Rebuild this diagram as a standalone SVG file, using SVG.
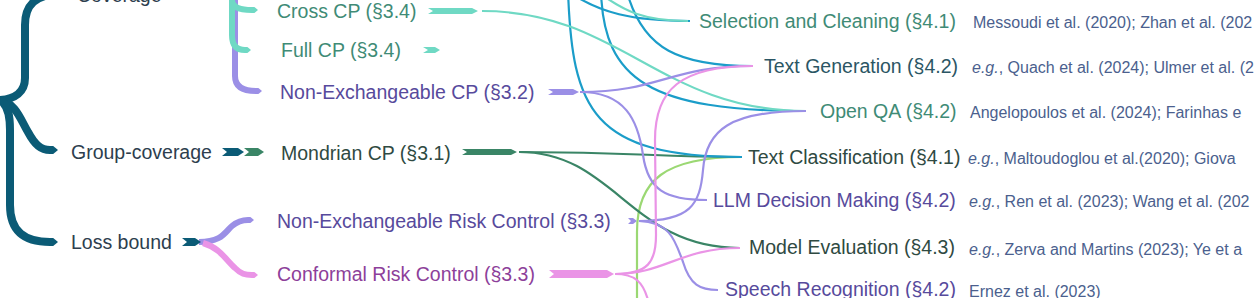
<svg xmlns="http://www.w3.org/2000/svg" width="1256" height="298" viewBox="0 0 1256 298">
<style>
.lbl{font-family:"Liberation Sans",Arial,sans-serif;font-size:19.5px}
.cit{font-family:"Liberation Sans",Arial,sans-serif;font-size:16px;fill:#4b5f8e}
.it{font-style:italic}
.dk{fill:#2d3e4e}
.tl{fill:#3f8b76}
.pu{fill:#574a9c}
.dg{fill:#2f4a42}
.ts{fill:#2b5664}
.mg{fill:#8d3f9a}
.thin{fill:none;stroke-width:2.2}
.c-blue{stroke:#1b9dc9}
.c-teal{stroke:#6fd9c4}
.c-pur{stroke:#9b8fe6}
.c-pink{stroke:#ea94e6}
.c-grn{stroke:#3a8566}
.c-lg{stroke:#9bd873}
.brace{fill:none;stroke-linecap:butt}
</style>
<defs>
<marker id="tip-dt" viewBox="0 0 10 10" refX="0" refY="5" markerWidth="1" markerHeight="1" markerUnits="strokeWidth" orient="auto"><path d="M0,0 L4,0 L10,5 L4,10 L0,10 Z" fill="#0b5b76"/></marker>
<marker id="tip-teal" viewBox="0 0 10 10" refX="0" refY="5" markerWidth="1" markerHeight="1" markerUnits="strokeWidth" orient="auto"><path d="M0,0 L4,0 L10,5 L4,10 L0,10 Z" fill="#6fd9c4"/></marker>
<marker id="tip-pur" viewBox="0 0 10 10" refX="0" refY="5" markerWidth="1" markerHeight="1" markerUnits="strokeWidth" orient="auto"><path d="M0,0 L4,0 L10,5 L4,10 L0,10 Z" fill="#9b8fe6"/></marker>
<marker id="tip-pink" viewBox="0 0 10 10" refX="0" refY="5" markerWidth="1" markerHeight="1" markerUnits="strokeWidth" orient="auto"><path d="M0,0 L4,0 L10,5 L4,10 L0,10 Z" fill="#ea94e6"/></marker>
</defs>

<g id="connectors">
  <!-- big left brace -->
  <g class="brace" stroke="#0b5b76" stroke-width="8">
    <path d="M62,-6 C35,-6 25,5 25,25 L25,78 C25,92 15,99 0,100"/>
    <path d="M0,100 C15,103 20,118 28,132 C35,145 41,150 50,150" marker-end="url(#tip-dt)"/>
    <path d="M0,100 C8,105 10,115 10,130 L10,205 C10,232 25,242 50,242" marker-end="url(#tip-dt)"/>
  </g>
  <!-- coverage sub-brace -->
  <g class="brace" stroke-width="6">
    <path d="M235,-10 L235,76 C235,87 243,91 256,91" stroke="#9b8fe6" marker-end="url(#tip-pur)"/>
    <path d="M232,-10 L232,0 C232,7 239,10 252,10" stroke="#6fd9c4" marker-end="url(#tip-teal)"/>
    <path d="M232,-10 L232,35 C232,46 237,50 245,50" stroke="#6fd9c4" marker-end="url(#tip-teal)"/>
  </g>
  <!-- loss bound sub-brace -->
  <g class="brace" stroke-width="6">
    <path d="M199,242 C222,242 225,232 232,226 C238,221 242,220 248,220" stroke="#9b8fe6" marker-end="url(#tip-pur)"/>
    <path d="M203,243 C220,248 226,260 235,268 C241,274 245,275 252,275" stroke="#ea94e6" marker-end="url(#tip-pink)"/>
  </g>
  <!-- chevrons / bars -->
  <polygon points="222,148 238,148 244,152 238,156 222,156 227,152" fill="#0b5b76"/>
  <polygon points="244,148 258,148 264,152 258,156 244,156 249,152" fill="#3a8566"/>
  <polygon points="182,238 195,238 201,242 195,246 182,246 187,242" fill="#0b5b76"/>
  <polygon points="428,8 472,8 478,11 472,14 428,14 433,11" fill="#6fd9c4"/>
  <polygon points="423,47 435,47 440,50 435,53 423,53 428,50" fill="#6fd9c4"/>
  <polygon points="548,89 573,89 579,92 573,95 548,95 553,92" fill="#9b8fe6"/>
  <polygon points="462,149 511,149 517,152 511,155 462,155 467,152" fill="#3a8566"/>
  <polygon points="628,218 633,218 637,221 633,224 628,224 631,221" fill="#9b8fe6"/>
  <polygon points="549,270 607,270 614,274 607,278 549,278 554,274" fill="#ea94e6"/>

  <!-- flows -->
  <path class="thin c-lg" d="M637,300 L637,232 C637,180 665,157 742,157"/>
  <path class="thin c-grn" d="M519,152 C640,152 650,157 742,157"/>
  <path class="thin c-grn" d="M519,152 C615,152 630,248 740,248"/>
  <path class="thin c-blue" d="M568,-10 C572,110 592,157 742,157"/>
  <path class="thin c-blue" d="M572,-6 C600,12 630,21 690,21"/>
  <path class="thin c-blue" d="M601,-8 C604,80 650,111 806,111"/>
  <path class="thin c-blue" d="M627,-8 C643,50 680,66 753,66"/>
  <path class="thin c-teal" d="M482,11 C620,11 660,111 806,111"/>
  <path class="thin c-teal" d="M598,-8 C625,12 645,21 688,21" stroke-width="3"/>
  <path class="thin c-pur" d="M580,92 C660,92 670,66 752,66"/>
  <path class="thin c-pur" d="M580,92 C625,92 638,120 643,155 C648,190 665,200 707,200"/>
  <path class="thin c-pur" d="M639,221 C690,221 700,205 703,170 C706,130 730,111 806,111"/>
  <path class="thin c-pur" d="M639,221 C670,222 675,240 683,262 C690,285 700,290 718,290"/>
  <path class="thin c-pink" d="M615,274 C648,274 656,262 656,235 L655,140 C655,90 680,66 753,66"/>
  <path class="thin c-pink" d="M615,274 C665,274 680,248 740,248"/>
  <path class="thin c-pink" d="M615,274 C635,274 643,282 648,300"/>
</g>

<g id="n-coverage"><text class="lbl dk" x="77" y="2">Coverage</text></g>
<g id="n-group-coverage"><text class="lbl dk" x="71" y="159">Group-coverage</text></g>
<g id="n-loss-bound"><text class="lbl dk" x="71" y="249">Loss bound</text></g>

<g id="n-cross-cp"><text class="lbl tl" x="277" y="18">Cross CP (§3.4)</text></g>
<g id="n-full-cp"><text class="lbl tl" x="281" y="57">Full CP (§3.4)</text></g>
<g id="n-nex-cp"><text class="lbl pu" x="280" y="99">Non-Exchangeable CP (§3.2)</text></g>
<g id="n-mondrian"><text class="lbl dg" x="281" y="160">Mondrian CP (§3.1)</text></g>
<g id="n-nex-rc"><text class="lbl pu" x="277" y="228">Non-Exchangeable Risk Control (§3.3)</text></g>
<g id="n-crc"><text class="lbl mg" x="277" y="281">Conformal Risk Control (§3.3)</text></g>

<g id="n-selection"><text class="lbl tl" x="699" y="28">Selection and Cleaning (§4.1)</text>
  <text class="cit" x="973" y="28">Messoudi et al. (2020); Zhan et al. (202</text></g>
<g id="n-textgen"><text class="lbl ts" x="764" y="73">Text Generation (§4.2)</text>
  <text class="cit" x="972" y="73"><tspan class="it">e.g.</tspan>, Quach et al. (2024); Ulmer et al. (2</text></g>
<g id="n-openqa"><text class="lbl tl" x="820" y="118">Open QA (§4.2)</text>
  <text class="cit" x="970" y="118">Angelopoulos et al. (2024); Farinhas e</text></g>
<g id="n-textcls"><text class="lbl dg" x="748" y="164">Text Classification (§4.1)</text>
  <text class="cit" x="968" y="164"><tspan class="it">e.g.</tspan>, Maltoudoglou et al.(2020); Giova</text></g>
<g id="n-llm"><text class="lbl pu" x="713" y="207">LLM Decision Making (§4.2)</text>
  <text class="cit" x="969" y="207"><tspan class="it">e.g.</tspan>, Ren et al. (2023); Wang et al. (202</text></g>
<g id="n-modeleval"><text class="lbl dg" x="749" y="254">Model Evaluation (§4.3)</text>
  <text class="cit" x="969" y="255"><tspan class="it">e.g.</tspan>, Zerva and Martins (2023); Ye et a</text></g>
<g id="n-speech"><text class="lbl pu" x="725" y="296">Speech Recognition (§4.2)</text>
  <text class="cit" x="969" y="297">Ernez et al. (2023)</text></g>
</svg>
